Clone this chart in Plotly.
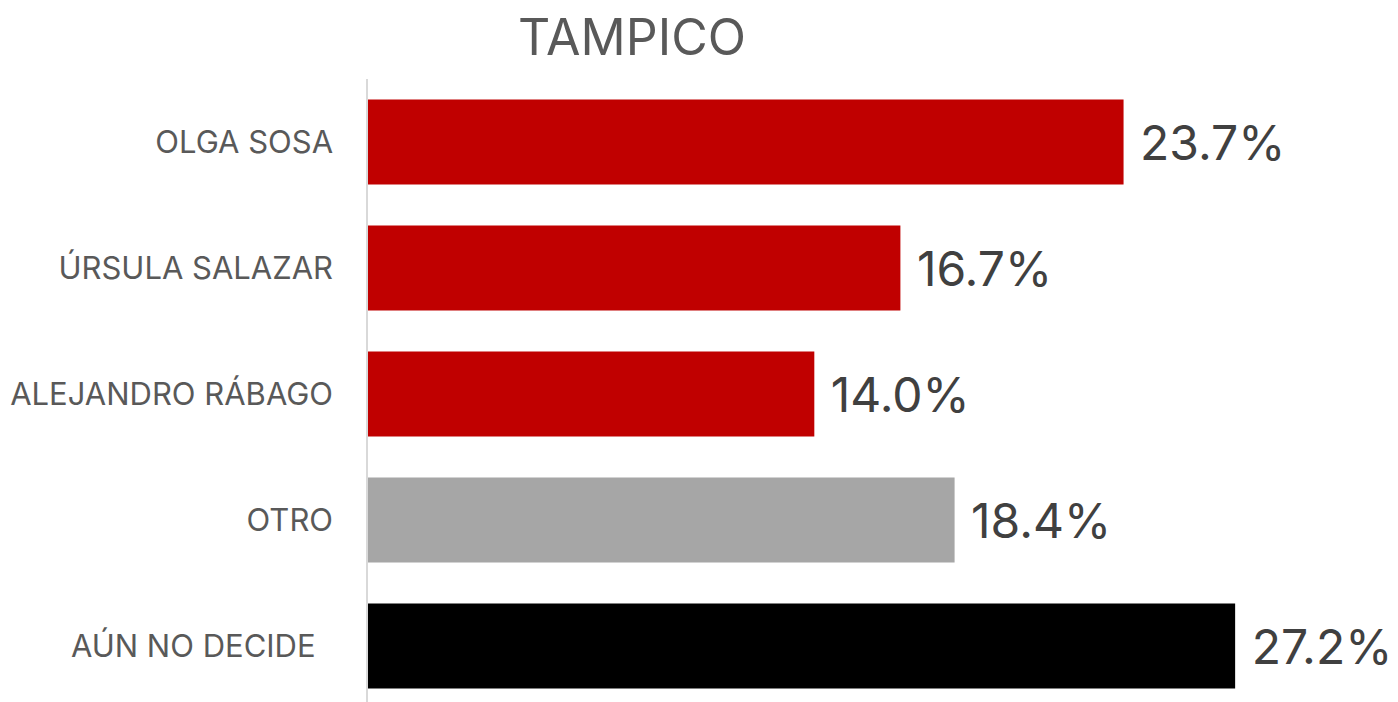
import plotly.graph_objects as go

# Datos
candidatos = ["OLGA SOSA", "ÚRSULA SALAZAR", "ALEJANDRO RÁBAGO", "OTRO", "AÚN NO DECIDE\u00a0\u00a0"]
porcentajes = [23.7, 16.7, 14.0, 18.4, 27.2]
colores = ["#c00000", "#c00000", "#c00000", "#a6a6a6", "#000000"]

FONT = "Inter, Noto Sans, sans-serif"

fig = go.Figure(go.Bar(
    x=porcentajes,
    y=candidatos,
    orientation="h",
    marker=dict(color=colores, line=dict(width=0)),
    width=0.675,
    text=porcentajes,
    texttemplate="\u00a0%{x:.1f}%",
    textposition="outside",
    textfont=dict(family=FONT, size=48, color="#404040"),
    cliponaxis=False,
))

fig.update_layout(
    title=dict(text="TAMPICO", x=624 / 1398, xanchor="center",
               y=1 - 29 / 702, yanchor="middle",
               font=dict(family=FONT, size=50, color="#595959")),
    width=1398, height=702,
    paper_bgcolor="white", plot_bgcolor="white",
    margin=dict(l=360, r=0, t=71, b=0),
    showlegend=False,
    bargap=0.325,
    xaxis=dict(range=[0, 1038 / 31.88], visible=False, showgrid=False),
    yaxis=dict(
        categoryorder="array", categoryarray=candidatos,
        range=[631 / 126 - 0.5, -0.5],
        showline=True, linecolor="#d9d9d9", linewidth=1.5,
        ticks="", ticklabelstandoff=27,
        tickfont=dict(family=FONT, size=31, color="#595959"),
        showgrid=False, zeroline=False,
    ),
)

fig.write_html("out.html")
